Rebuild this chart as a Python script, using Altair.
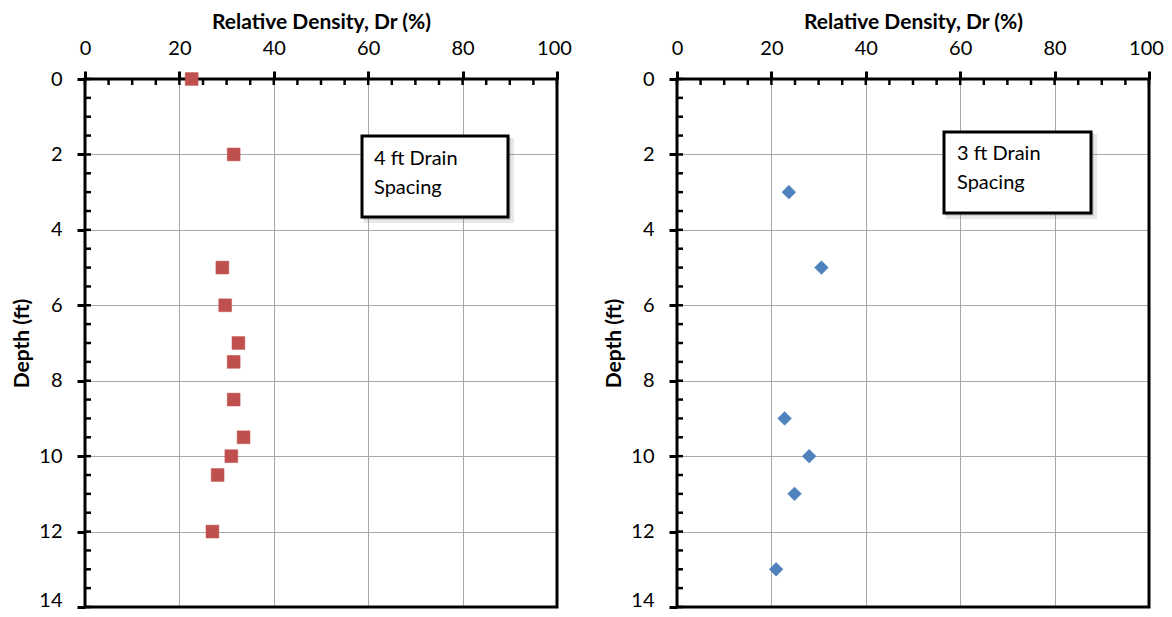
import altair as alt
import pandas as pd

# ---- data ----
depth_4ft = [0, 2, 5, 6, 7, 7.5, 8.5, 9.5, 10, 10.5, 12]
dr_4ft = [22.6, 31.5, 29.1, 29.7, 32.5, 31.5, 31.5, 33.6, 31.0, 28.1, 27.0]

depth_3ft = [3, 5, 9, 10, 11, 13]
dr_3ft = [23.7, 30.6, 22.8, 28.0, 24.9, 21.0]

x_major = [0, 20, 40, 60, 80, 100]
x_minor = [0, 5, 10, 15, 20, 25, 30, 35, 40, 45, 50, 55, 60, 65, 70, 75, 80, 85, 90, 95, 100]
y_major = [0, 2, 4, 6, 8, 10, 12, 14]
y_minor = [0, 0.5, 1, 1.5, 2, 2.5, 3, 3.5, 4, 4.5, 5, 5.5, 6, 6.5, 7, 7.5, 8, 8.5, 9, 9.5,
           10, 10.5, 11, 11.5, 12, 12.5, 13, 13.5, 14]

x_title = "Relative Density, Dr (%)"
y_title = "Depth (ft)"

FONT = "Lato"
W, H = 472, 528

xscale = alt.Scale(domain=[0, 100], nice=False, zero=False)
yscale = alt.Scale(domain=[0, 14], nice=False, reverse=True, zero=False)

xaxis = alt.Axis(orient="top", values=x_major, title=x_title, domain=False,
                 tickSize=8, tickWidth=3, tickColor="black",
                 grid=True, gridColor="#a8a8a8", gridWidth=1,
                 labelFont=FONT, labelFontSize=20, labelColor="black", labelPadding=13,
                 labelOffset={"condition": {"test": "datum.value === 100", "value": -3}, "value": 0},
                 titleFont=FONT, titleFontSize=21, titleFontWeight="bold",
                 titleColor="black", titlePadding=6, labelFlush=False)
yaxis = alt.Axis(orient="left", values=y_major, title=y_title, domain=False,
                 tickSize=8, tickWidth=3, tickColor="black",
                 grid=True, gridColor="#a8a8a8", gridWidth=1,
                 labelFont=FONT, labelFontSize=20, labelColor="black", labelPadding=15,
                 labelOffset={"condition": {"test": "datum.value === 14", "value": -7}, "value": 0},
                 titleFont=FONT, titleFontSize=21, titleFontWeight="bold",
                 titleColor="black", titlePadding=6, labelFlush=False)


def panel(dr, depth, shape, color, size, box, lines, text_x, baselines):
    df = pd.DataFrame({"dr": dr, "depth": depth})
    dummy = pd.DataFrame({"a": [0]})

    bx0, by0, bx1, by1 = box
    shadow1 = alt.Chart(dummy).mark_rect(color="#7f7f7f", opacity=0.18).encode(
        x=alt.value(bx0 + 2), x2=alt.value(bx1 + 6), y=alt.value(by0 + 2), y2=alt.value(by1 + 6))
    shadow2 = alt.Chart(dummy).mark_rect(color="#7f7f7f", opacity=0.25).encode(
        x=alt.value(bx0 + 1), x2=alt.value(bx1 + 3), y=alt.value(by0 + 1), y2=alt.value(by1 + 3))
    rect = alt.Chart(dummy).mark_rect(fill="white", stroke="black", strokeWidth=3).encode(
        x=alt.value(bx0), x2=alt.value(bx1), y=alt.value(by0), y2=alt.value(by1))
    texts = []
    for line, bl in zip(lines, baselines):
        texts.append(alt.Chart(dummy).mark_text(align="left", baseline="alphabetic",
                                                font=FONT, fontSize=20, color="black").encode(
            x=alt.value(text_x), y=alt.value(bl), text=alt.value(line)))

    border = alt.Chart(pd.DataFrame({"x0": [0], "x1": [100], "y0": [0], "y1": [14]})).mark_rect(
        fill=None, stroke="black", strokeWidth=3).encode(
        x=alt.X("x0:Q", scale=xscale, axis=xaxis), x2="x1:Q",
        y=alt.Y("y0:Q", scale=yscale, axis=yaxis), y2="y1:Q")

    xticks = alt.Chart(pd.DataFrame({"v": x_minor})).mark_rule(color="black", strokeWidth=2.5).encode(
        x=alt.X("v:Q", scale=xscale, axis=xaxis), y=alt.value(0), y2=alt.value(6))
    yticks = alt.Chart(pd.DataFrame({"v": y_minor})).mark_rule(color="black", strokeWidth=2.5).encode(
        y=alt.Y("v:Q", scale=yscale, axis=yaxis), x=alt.value(0), x2=alt.value(6))

    points = alt.Chart(df).mark_point(shape=shape, filled=True, color=color, size=size,
                                      opacity=1, stroke=color, strokeWidth=0.5).encode(
        x=alt.X("dr:Q", scale=xscale, axis=xaxis),
        y=alt.Y("depth:Q", scale=yscale, axis=yaxis),
    )

    return alt.layer(shadow1, shadow2, rect, *texts, border, xticks, yticks, points).properties(
        width=W, height=H)


left = panel(dr_4ft, depth_4ft, "square", "#c0504d", 165,
             (277, 57, 423, 138), ["4 ft Drain", "Spacing"], 289, [86, 115])
right = panel(dr_3ft, depth_3ft, "diamond", "#4f81bd", 190,
              (267, 53, 414, 134), ["3 ft Drain", "Spacing"], 280, [81, 110])

chart = alt.hconcat(left, right, spacing=120, bounds="flush").properties(
    padding={"left": 3, "top": 2, "right": 0, "bottom": -2}
).configure_view(stroke=None).configure(background="white")

chart.save("out.html", embed_options={"renderer": "svg", "actions": False})
